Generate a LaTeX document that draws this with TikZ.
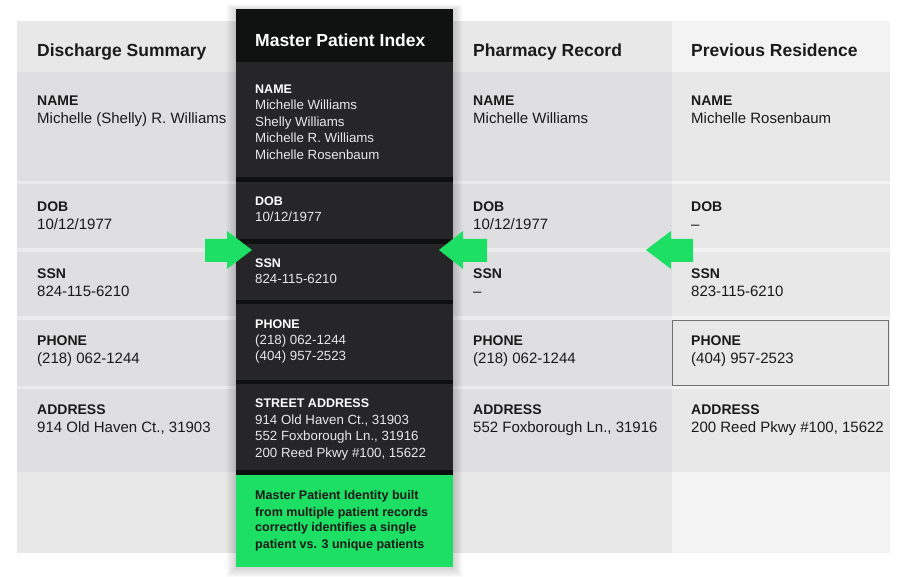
\documentclass[tikz,border=0pt]{standalone}
\usepackage{fontspec}
\setmainfont{Liberation Sans}
\definecolor{ink}{HTML}{1A1A1A}
\definecolor{hdrA}{HTML}{E8E8E9}
\definecolor{hdrB}{HTML}{F3F3F4}
\definecolor{rowA}{HTML}{DFDFE1}
\definecolor{rowB}{HTML}{E8E8E9}
\definecolor{sepA}{HTML}{EBEBEC}
\definecolor{sepB}{HTML}{F2F2F3}
\definecolor{mhead}{HTML}{101111}
\definecolor{mbar}{HTML}{0E100F}
\definecolor{msec}{HTML}{262628}
\definecolor{mtext}{HTML}{E8E8E8}
\definecolor{agreen}{HTML}{1CDF63}
\definecolor{bordergray}{HTML}{707070}
\begin{document}
\begin{tikzpicture}[x=1pt,y=-1pt,
  cell/.style={rectangle, inner sep=0pt, outer sep=0pt, anchor=north west, draw=none},
  hdr/.style={anchor=base west, inner sep=0pt, font=\fontsize{17.5}{20}\selectfont\bfseries, text=ink},
  lbl/.style={anchor=base west, inner sep=0pt, font=\fontsize{14}{16}\selectfont\bfseries, text=ink},
  val/.style={anchor=base west, inner sep=0pt, font=\fontsize{15}{18}\selectfont, text=ink},
  mhdr/.style={hdr, text=white},
  mlbl/.style={anchor=base west, inner sep=0pt, font=\fontsize{12.5}{15}\selectfont\bfseries, text=white},
  mval/.style={anchor=base west, inner sep=0pt, font=\fontsize{13.3}{16}\selectfont, text=mtext},
  gtxt/.style={anchor=base west, inner sep=0pt, font=\fontsize{12.5}{15}\selectfont\bfseries, text=ink},
  garrow/.style={fill=agreen, draw=none}
]
\useasboundingbox (0,0) rectangle (906,577);
\fill[white] (0,0) rectangle (906,577);

% --- record columns ---
\foreach \col/\x/\w/\rowc/\hc/\sc in {ds/17/219/rowA/hdrA/sepA, ph/453/219/rowA/hdrA/sepA, pr/672/218/rowB/hdrB/sepB} {
  \node[cell, fill=\sc, minimum width=\w pt, minimum height=532pt] (\col) at (\x,21) {};
  \node[cell, fill=\hc, minimum width=\w pt, minimum height=51pt] (\col-hd) at (\x,21) {};
  \foreach \r/\ya/\h in {name/72/109, dob/184/64, ssn/252/64, phone/320/66, addr/389/83}
    \node[cell, fill=\rowc, minimum width=\w pt, minimum height=\h pt] (\col-\r) at (\x,\ya) {};
  \node[cell, fill=\hc, minimum width=\w pt, minimum height=81pt] (\col-ft) at (\x,472) {};
}
\draw[bordergray, line width=1pt] ([xshift=.5pt,yshift=-.5pt]pr-phone.north west) rectangle ([xshift=-1.5pt,yshift=.5pt]pr-phone.south east);

% --- texts of the records ---
\node[hdr] (ds-t) at (37,57) {Discharge Summary};
\node[lbl] (ds-name-l) at (37,106) {NAME};
\node[val] (ds-name-v) at (37,124) {Michelle (Shelly) R. Williams};
\node[lbl] (ds-dob-l) at (37,212) {DOB};
\node[val] (ds-dob-v) at (37,230) {10/12/1977};
\node[lbl] (ds-ssn-l) at (37,279) {SSN};
\node[val] (ds-ssn-v) at (37,297) {824-115-6210};
\node[lbl] (ds-phone-l) at (37,346) {PHONE};
\node[val] (ds-phone-v) at (37,364) {(218) 062-1244};
\node[lbl] (ds-addr-l) at (37,415) {ADDRESS};
\node[val] (ds-addr-v) at (37,433) {914 Old Haven Ct., 31903};

\node[hdr] (ph-t) at (473,57) {Pharmacy Record};
\node[lbl] (ph-name-l) at (473,106) {NAME};
\node[val] (ph-name-v) at (473,124) {Michelle Williams};
\node[lbl] (ph-dob-l) at (473,212) {DOB};
\node[val] (ph-dob-v) at (473,230) {10/12/1977};
\node[lbl] (ph-ssn-l) at (473,279) {SSN};
\node[val] (ph-ssn-v) at (473,297) {–};
\node[lbl] (ph-phone-l) at (473,346) {PHONE};
\node[val] (ph-phone-v) at (473,364) {(218) 062-1244};
\node[lbl] (ph-addr-l) at (473,415) {ADDRESS};
\node[val] (ph-addr-v) at (473,433) {552 Foxborough Ln., 31916};

\node[hdr] (pr-t) at (691,57) {Previous Residence};
\node[lbl] (pr-name-l) at (691,106) {NAME};
\node[val] (pr-name-v) at (691,124) {Michelle Rosenbaum};
\node[lbl] (pr-dob-l) at (691,212) {DOB};
\node[val] (pr-dob-v) at (691,230) {–};
\node[lbl] (pr-ssn-l) at (691,279) {SSN};
\node[val] (pr-ssn-v) at (691,297) {823-115-6210};
\node[lbl] (pr-phone-l) at (691,346) {PHONE};
\node[val] (pr-phone-v) at (691,364) {(404) 957-2523};
\node[lbl] (pr-addr-l) at (691,415) {ADDRESS};
\node[val] (pr-addr-v) at (691,433) {200 Reed Pkwy \#100, 15622};

% --- master patient index ---
\foreach \i in {1,...,14}
  \fill[black, opacity=0.012] (236-\i*0.7, 9-\i*0.4+1) rectangle (453+\i*0.7, 567+\i*0.7+1);
\node[cell, fill=mbar, minimum width=217pt, minimum height=558pt] (mpi) at (236,9) {};
\node[cell, fill=mhead, minimum width=217pt, minimum height=53pt] (mpi-hd) at (236,9) {};
\foreach \r/\ya/\h in {name/62/115, dob/182/57, ssn/244/56, phone/304/76, addr/384/86}
  \node[cell, fill=msec, minimum width=217pt, minimum height=\h pt] (mpi-\r) at (236,\ya) {};
\node[cell, fill=agreen, minimum width=217pt, minimum height=92pt] (mpi-note) at (236,475) {};

\node[mhdr] (mpi-t) at (255,46.5) {Master Patient Index};
\node[mlbl] (mpi-name-l) at (255,94) {NAME};
\node[mval] (mpi-name-1) at (255,110) {Michelle Williams};
\node[mval] (mpi-name-2) at (255,126.5) {Shelly Williams};
\node[mval] (mpi-name-3) at (255,143) {Michelle R. Williams};
\node[mval] (mpi-name-4) at (255,159.5) {Michelle Rosenbaum};
\node[mlbl] (mpi-dob-l) at (255,206) {DOB};
\node[mval] (mpi-dob-v) at (255,222) {10/12/1977};
\node[mlbl] (mpi-ssn-l) at (255,268) {SSN};
\node[mval] (mpi-ssn-v) at (255,284) {824-115-6210};
\node[mlbl] (mpi-phone-l) at (255,329) {PHONE};
\node[mval] (mpi-phone-1) at (255,345) {(218) 062-1244};
\node[mval] (mpi-phone-2) at (255,361) {(404) 957-2523};
\node[mlbl] (mpi-addr-l) at (255,408) {STREET ADDRESS};
\node[mval] (mpi-addr-1) at (255,424.5) {914 Old Haven Ct., 31903};
\node[mval] (mpi-addr-2) at (255,441) {552 Foxborough Ln., 31916};
\node[mval] (mpi-addr-3) at (255,457.5) {200 Reed Pkwy \#100, 15622};
\node[gtxt] (note-1) at (255,500) {Master Patient Identity built};
\node[gtxt] (note-2) at (255,516) {from multiple patient records};
\node[gtxt] (note-3) at (255,532) {correctly identifies a single};
\node[gtxt] (note-4) at (255,548) {patient vs. 3 unique patients};

% --- green arrows ---
\fill[garrow] (205,239) -- (227,239) -- (227,231) -- (252,250) -- (227,269) -- (227,262) -- (205,262) -- cycle;
\fill[garrow] (487,239) -- (463,239) -- (463,231) -- (439,250) -- (463,269) -- (463,262) -- (487,262) -- cycle;
\fill[garrow] (693,239) -- (671,239) -- (671,231) -- (646,250) -- (671,269) -- (671,262) -- (693,262) -- cycle;
\end{tikzpicture}
\end{document}
